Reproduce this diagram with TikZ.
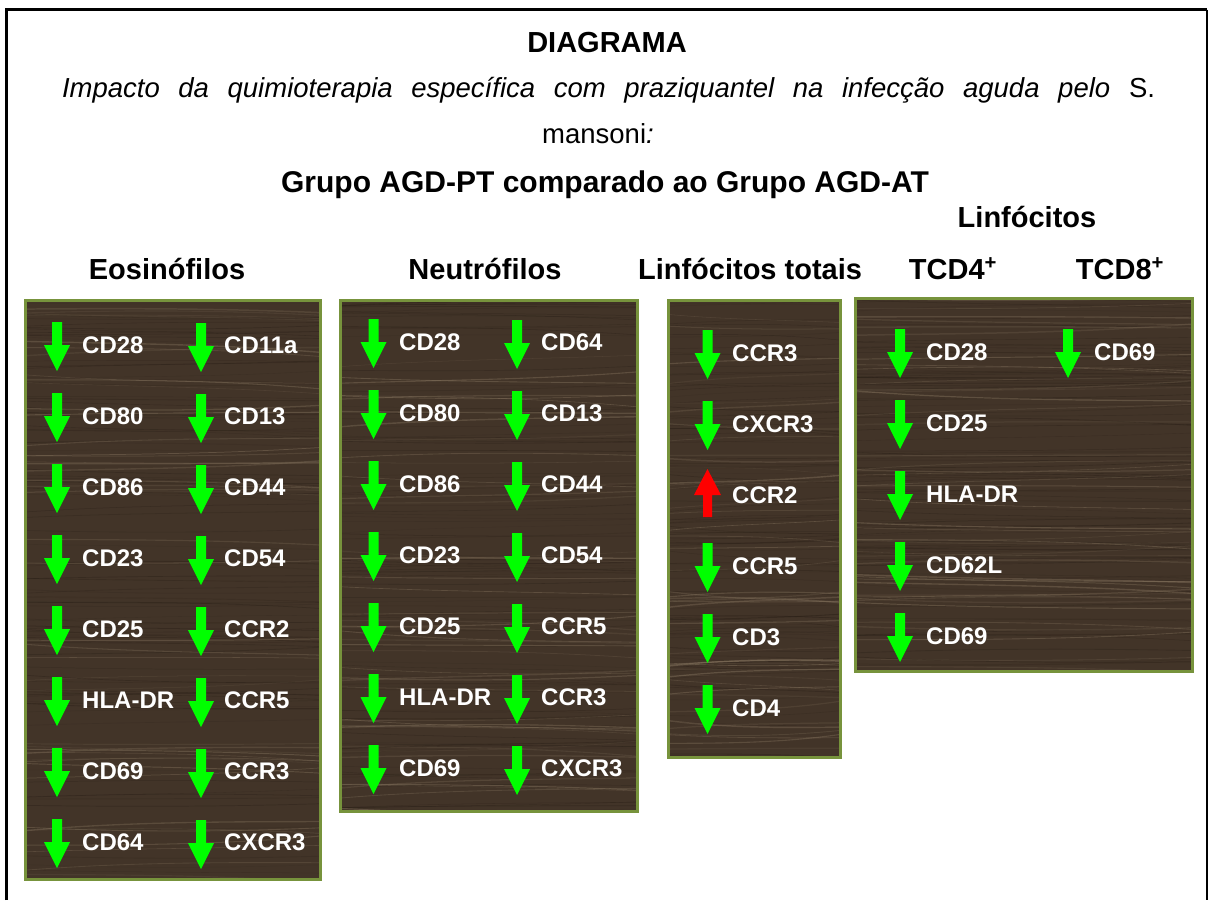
\documentclass[tikz,border=0pt]{standalone}
\usepackage{fontspec}
\setmainfont{Liberation Sans}
\usetikzlibrary{calc}
\definecolor{boxgreen}{RGB}{119,147,60}
\definecolor{wood}{RGB}{66,52,40}
\definecolor{woodlight}{RGB}{150,132,108}
\definecolor{wooddark}{RGB}{40,30,22}
\definecolor{arrgreen}{RGB}{0,255,0}
\definecolor{arrred}{RGB}{255,0,0}
\newcommand\woodgrain[5]{%
  \begin{scope}
    \clip (#1,#2) rectangle (#3,#4);
    \pgfmathsetseed{#5}
    \pgfmathsetmacro\xa{#1-5}%
    \pgfmathsetmacro\xb{#1+(#3-#1)*0.33}%
    \pgfmathsetmacro\xc{#1+(#3-#1)*0.66}%
    \pgfmathsetmacro\xd{#3+5}%
    \foreach \k in {1,...,90}{%
      \pgfmathsetmacro\ya{#2+rnd*(#4-#2)}%
      \pgfmathsetmacro\yb{\ya+rand*9}%
      \pgfmathsetmacro\ym{(\ya+\yb)/2+rand*4}%
      \pgfmathsetmacro\op{0.12+0.3*rnd}%
      \pgfmathsetmacro\lw{0.3+0.6*rnd}%
      \draw[wooddark, opacity=\op, line width=\lw pt]
        (\xa,\ya) .. controls (\xb,\ym) and (\xc,\ym) .. (\xd,\yb);
    }
    \foreach \k in {1,...,45}{%
      \pgfmathsetmacro\ya{#2+rnd*(#4-#2)}%
      \pgfmathsetmacro\yb{\ya+rand*12}%
      \pgfmathsetmacro\ym{(\ya+\yb)/2+rand*5}%
      \pgfmathsetmacro\op{0.10+0.28*rnd}%
      \pgfmathsetmacro\lw{0.5+1.0*rnd}%
      \draw[woodlight, opacity=\op, line width=\lw pt]
        (\xa,\ya) .. controls (\xb,\ym) and (\xc,\ym) .. (\xd,\yb);
    }
  \end{scope}}
\tikzset{
  lbl/.style={text=white, font=\bfseries\fontsize{24}{28}\selectfont, anchor=base west, inner sep=0pt},
  hdr/.style={font=\bfseries\fontsize{29}{33}\selectfont, anchor=base, inner sep=0pt},
  sub/.style={anchor=base, inner sep=0pt, font=\fontsize{27.5}{32}\selectfont},
  panelfill/.style={fill=wood, draw=none, anchor=north west, inner sep=0pt, outer sep=0pt},
  panelline/.style={draw=boxgreen, line width=3pt},
  dnarrow/.pic={\fill[arrgreen] (-5,-23) -- (5,-23) -- (5,0) -- (13,0) -- (0,26) -- (-13,0) -- (-5,0) -- cycle;},
  uparrow/.pic={\fill[arrred] (-4.5,22) -- (4.5,22) -- (4.5,0) -- (13.5,0) -- (0,-26) -- (-13.5,0) -- (-4.5,0) -- cycle;},
}
\begin{document}
\begin{tikzpicture}[x=1pt,y=-1pt]
\useasboundingbox (0,0) rectangle (1209,900);
\fill[white] (0,0) rectangle (1209,900);
% frame
\draw[line width=3pt] (6.5,900) -- (6.5,9.5) -- (1207,9.5);
\draw[line width=2pt] (1207,9.5) -- (1207,900);

% titles
\node[hdr] (title) at (607,52) {DIAGRAMA};
\node[sub] (sub1) at (608.5,97)
  {\makebox[1093pt][s]{\itshape Impacto da quimioterapia específica com praziquantel na infecção aguda pelo\upshape{} S.}};
\node[sub] (sub2) at (598,143) {mansoni\textit{:}};
\node[hdr, font=\bfseries\fontsize{30}{34}\selectfont] (grupo) at (605,192) {Grupo AGD-PT comparado ao Grupo AGD-AT};
\node[hdr] (linf) at (1027,227) {Linfócitos};
\node[hdr] (heos) at (167,279) {Eosinófilos};
\node[hdr] (hneu) at (485,279) {Neutrófilos};
\node[hdr] (hlt) at (750,279) {Linfócitos totais};
\node[hdr] (hcd4) at (953,279) {TCD4\textsuperscript{+}};
\node[hdr] (hcd8) at (1120,279) {TCD8\textsuperscript{+}};

% panels
\node[panelfill, minimum width=295pt, minimum height=579pt] (peos) at (25,300) {};
\woodgrain{25}{300}{320}{879}{11}
\draw[panelline] (peos.north west) rectangle (peos.south east);

\node[panelfill, minimum width=297pt, minimum height=511pt] (pneu) at (340,300) {};
\woodgrain{340}{300}{637}{811}{23}
\draw[panelline] (pneu.north west) rectangle (pneu.south east);

\node[panelfill, minimum width=172pt, minimum height=457pt] (plt) at (668,300) {};
\woodgrain{668}{300}{840}{757}{37}
\draw[panelline] (plt.north west) rectangle (plt.south east);

\node[panelfill, minimum width=337pt, minimum height=373pt] (pcd) at (855,298) {};
\woodgrain{855}{298}{1192}{671}{5}
\draw[panelline] (pcd.north west) rectangle (pcd.south east);

% Eosinofilos
\foreach \t/\u [count=\i from 0] in {CD28/CD11a,CD80/CD13,CD86/CD44,CD23/CD54,CD25/CCR2,HLA-DR/CCR5,CD69/CCR3,CD64/CXCR3}{
  \pgfmathsetmacro\yc{345+71*\i}
  \pic at (57,\yc) {dnarrow};
  \node[lbl] (eosa\i) at (82,\yc+8.6) {\t};
  \pic at (201,\yc+1) {dnarrow};
  \node[lbl] (eosb\i) at (224,\yc+8.6) {\u};
}
% Neutrofilos
\foreach \t/\u [count=\i from 0] in {CD28/CD64,CD80/CD13,CD86/CD44,CD23/CD54,CD25/CCR5,HLA-DR/CCR3,CD69/CXCR3}{
  \pgfmathsetmacro\yc{342+71*\i}
  \pic at (373.5,\yc) {dnarrow};
  \node[lbl] (neua\i) at (399,\yc+8.6) {\t};
  \pic at (517,\yc+1) {dnarrow};
  \node[lbl] (neub\i) at (541,\yc+8.6) {\u};
}
% Linfocitos totais
\foreach \t [count=\i from 0] in {CCR3,CXCR3,CCR2,CCR5,CD3,CD4}{
  \pgfmathsetmacro\yc{353+71*\i}
  \ifnum\i=2 \pic at (707.5,\yc) {uparrow}; \else \pic at (707.5,\yc) {dnarrow}; \fi
  \node[lbl] (lt\i) at (732,\yc+8.6) {\t};
}
% TCD4
\foreach \t [count=\i from 0] in {CD28,CD25,HLA-DR,CD62L,CD69}{
  \pgfmathsetmacro\yc{352+71*\i}
  \pic at (900,\yc) {dnarrow};
  \node[lbl] (cdf\i) at (926,\yc+8.6) {\t};
}
% TCD8
\pic at (1068,352) {dnarrow};
\node[lbl] (cde0) at (1094,360.6) {CD69};
\end{tikzpicture}
\end{document}
